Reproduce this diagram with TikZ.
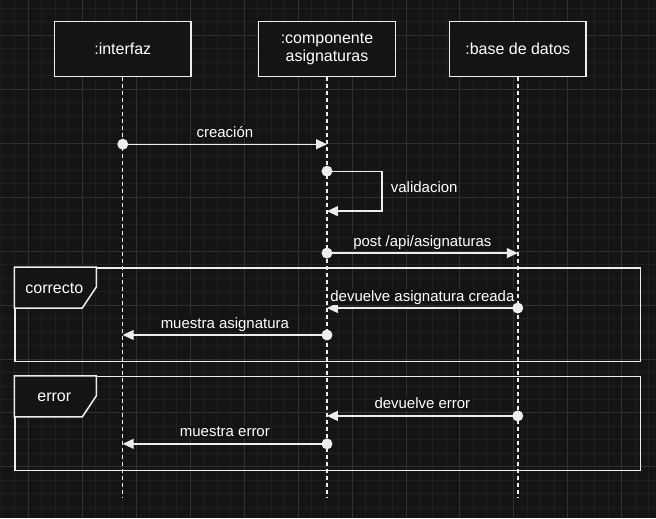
\documentclass[tikz,border=0pt]{standalone}
\usepackage{fontspec}
\setmainfont{Liberation Sans}
\usepackage{tikz}
\usetikzlibrary{arrows.meta}

\definecolor{fondo}{HTML}{141414}
\definecolor{rejilla}{HTML}{1F1F1F}
\definecolor{rejillamayor}{HTML}{303030}
\definecolor{linea}{HTML}{EDEDED}

\tikzset{
    caja/.style={draw=linea, fill=fondo, line width=1.5pt, text=white,
        minimum width=137pt, minimum height=55pt, align=center,
        font=\fontsize{16}{18.5}\selectfont},
    vida/.style={draw=linea, line width=1.5pt, dash pattern=on 4pt off 3pt},
    msg/.style={draw=linea, line width=1.3pt, -{Triangle[length=11pt,width=10pt]}},
    etq/.style={text=white, fill=fondo, inner sep=1pt, anchor=base, yshift=7pt},
    marco/.style={draw=linea, line width=1.5pt, minimum width=626pt,
        minimum height=94pt, anchor=north west, inner sep=0pt},
    etiqueta/.style={draw=linea, fill=fondo, line width=1.5pt},
    tmarco/.style={text=white, anchor=base, font=\fontsize{16}{18}\selectfont},
}

\begin{document}
\begin{tikzpicture}[x=1pt,y=-1pt,font=\fontsize{15}{18}\selectfont]
    \fill [fondo] (0,0) rectangle (656,518);
    \begin{scope}[line width=0.8pt]
    \foreach \i in {-2,...,46}
        \draw [rejilla] ({28+13.5*\i},0) -- ({28+13.5*\i},518);
    \foreach \i in {-2,...,35}
        \draw [rejilla] (0,{35+13.5*\i}) -- (656,{35+13.5*\i});
    \foreach \i in {0,...,11}
        \draw [rejillamayor] ({28+54*\i},0) -- ({28+54*\i},518);
    \foreach \i in {0,...,8}
        \draw [rejillamayor] (0,{35+54*\i}) -- (656,{35+54*\i});
    \end{scope}

    \node [marco] (fcorrecto) at (14,267) {};
    \draw [etiqueta] (fcorrecto.north west) -- ++(82,0) -- ++(0,20) -- ++(-14,21) -- ++(-68,0) -- cycle;
    \node [tmarco] (tcorrecto) at (54,293) {correcto};
    \node [marco] (ferror) at (14,376) {};
    \draw [etiqueta] (ferror.north west) -- ++(82,0) -- ++(0,20) -- ++(-14,21) -- ++(-68,0) -- cycle;
    \node [tmarco] (terror) at (54,402) {error};

    \node [caja] (ifz) at (122.5,48.5) {:interfaz};
    \node [caja] (comp) at (327,48.5) {:componente\\asignaturas};
    \node [caja] (bd) at (518,48.5) {:base de datos};

    \coordinate (ifzfin) at (122.5,497);
    \coordinate (compfin) at (327,497);
    \coordinate (bdfin) at (518,497);
    \draw [vida] (ifz) -- (ifzfin);
    \draw [vida] (comp) -- (compfin);
    \draw [vida] (bd) -- (bdfin);

    \coordinate (cre1) at (122.5,144);
    \coordinate (cre2) at (327,144);
    \coordinate (val1) at (327,171);
    \coordinate (val2) at (327,211);
    \coordinate (post1) at (327,253);
    \coordinate (post2) at (518,253);
    \coordinate (dev1) at (518,308);
    \coordinate (dev2) at (327,308);
    \coordinate (mas1) at (327,335);
    \coordinate (mas2) at (122.5,335);
    \coordinate (der1) at (518,416);
    \coordinate (der2) at (327,416);
    \coordinate (mer1) at (327,444);
    \coordinate (mer2) at (122.5,444);

    \draw [msg] (cre1) -- node [etq] {creación} (cre2);
    \draw [msg] (val1) -- ++(55,0) -- node [text=white, right=5pt, yshift=4pt] {validacion} ++(0,40) -- (val2);
    \draw [msg] (post1) -- node [etq] {post /api/asignaturas} (post2);
    \draw [msg] (dev1) -- node [etq] {devuelve asignatura creada} (dev2);
    \draw [msg] (mas1) -- node [etq] {muestra asignatura} (mas2);
    \draw [msg] (der1) -- node [etq] {devuelve error} (der2);
    \draw [msg] (mer1) -- node [etq] {muestra error} (mer2);

    \foreach \p in {cre1,val1,post1,dev1,mas1,der1,mer1}
        \fill [linea] (\p) circle (5.5);
\end{tikzpicture}
\end{document}
